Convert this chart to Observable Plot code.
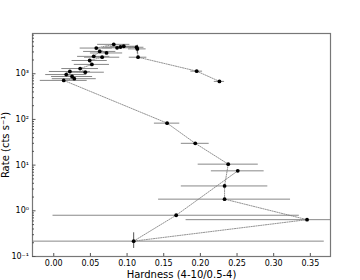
<!DOCTYPE html>
<html>
<head>
<meta charset="utf-8">
<script src="https://cdn.jsdelivr.net/npm/d3@7"></script>
<script src="https://cdn.jsdelivr.net/npm/@observablehq/plot@0.6"></script>
<style>
  html, body { margin: 0; padding: 0; background: #fff; }
  svg { font-family: "DejaVu Sans", sans-serif; }
  svg [aria-label$="axis label"] text { font-size: 10px; }
</style>
</head>
<body>
<div id="chart"></div>
<script>
// Time-ordered hardness/rate track
const hardness = [0.226, 0.195, 0.115, 0.114, 0.113, 0.0955, 0.091, 0.0864, 0.0818, 0.058, 0.072, 0.0627, 0.0545, 0.066, 0.049, 0.052, 0.036, 0.043, 0.022, 0.017, 0.025, 0.028, 0.0136, 0.1546, 0.193, 0.238, 0.233, 0.233, 0.3455, 0.109, 0.167, 0.251];
const rate = [680, 1140, 2300, 3500, 3800, 4000, 3850, 3700, 4400, 3650, 2850, 3080, 2400, 2300, 1950, 1600, 1300, 1080, 1120, 960, 870, 780, 715, 83, 30, 10.5, 3.5, 1.8, 0.64, 0.217, 0.8, 7.5];
const hardErr = [0.007, 0.008, 0.012, 0.012, 0.010, 0.018, 0.02, 0.02, 0.022, 0.022, 0.022, 0.022, 0.022, 0.024, 0.024, 0.024, 0.025, 0.026, 0.028, 0.028, 0.028, 0.03, 0.032, 0.0173, 0.019, 0.041, 0.059, 0.09, 0.165, 0.26, 0.168, 0.036];
const rateLo = [680, 1140, 2300, 2700, 3800, 4000, 3850, 3700, 4400, 3650, 2850, 3080, 2400, 2300, 1950, 1600, 1300, 1080, 1120, 960, 870, 780, 715, 83, 30, 10.5, 3.5, 1.8, 0.64, 0.15, 0.8, 7.5];
const rateHi = [680, 1140, 2300, 4200, 3800, 4000, 3850, 3700, 4400, 3650, 2850, 3080, 2400, 2300, 1950, 1600, 1300, 1080, 1120, 960, 870, 780, 715, 83, 30, 10.5, 3.5, 1.8, 0.64, 0.33, 0.8, 7.5];

const xTicks = [0.00, 0.05, 0.10, 0.15, 0.20, 0.25, 0.30, 0.35];
const yTicks = [0.1, 1, 10, 100, 1000];
const yTickLabels = ["10\u207B\u00B9", "10\u2070", "10\u00B9", "10\u00B2", "10\u00B3"];
const yMinor = [];
for (const d of [0.1, 1, 10, 100, 1000]) for (let k = 2; k <= 9; k++) if (d * k < 7600) yMinor.push(d * k);

const data = hardness.map((h, i) => ({h, r: rate[i], e: hardErr[i], lo: rateLo[i], hi: rateHi[i]}));

const chart = Plot.plot({
  width: 360,
  height: 280,
  marginLeft: 32,
  marginRight: 30,
  marginTop: 33,
  marginBottom: 24,
  style: {fontSize: "8px", fontFamily: "DejaVu Sans, sans-serif", color: "#000", background: "#fff"},
  x: {domain: [-0.029, 0.3775]},
  y: {type: "log", domain: [0.1, 7600]},
  marks: [
    Plot.ruleY(data, {y: "r", x1: d => d.h - d.e, x2: d => d.h + d.e, stroke: "#888", strokeWidth: 1, clip: true}),
    Plot.ruleX(data.filter(d => d.hi > d.lo), {x: "h", y1: "lo", y2: "hi", stroke: "#555", strokeWidth: 1, clip: true}),
    Plot.line(data, {x: "h", y: "r", stroke: "#777", strokeWidth: 0.8, strokeDasharray: "1.2,1.2", clip: true}),
    Plot.dot(data, {x: "h", y: "r", r: 1.9, fill: "#000", stroke: "none"}),
    Plot.frame({stroke: "#777", strokeWidth: 1.2}),
    Plot.axisX(xTicks, {tickSize: -3, tickPadding: 7, tickFormat: d => d.toFixed(2), stroke: "#555",
      label: "Hardness (4-10/0.5-4)", labelAnchor: "center", labelArrow: "none", labelOffset: 21}),
    Plot.axisY(yTicks, {tickSize: -3.5, tickPadding: 7, tickFormat: (d, i) => yTickLabels[yTicks.indexOf(d)], stroke: "#555",
      label: "Rate (cts s\u207B\u00B9)", labelAnchor: "center", labelArrow: "none", labelOffset: 31}),
    Plot.axisY(yMinor, {tickSize: -2, tickFormat: () => "", stroke: "#555", label: null})
  ]
});
document.getElementById("chart").appendChild(chart);
</script>
</body>
</html>
